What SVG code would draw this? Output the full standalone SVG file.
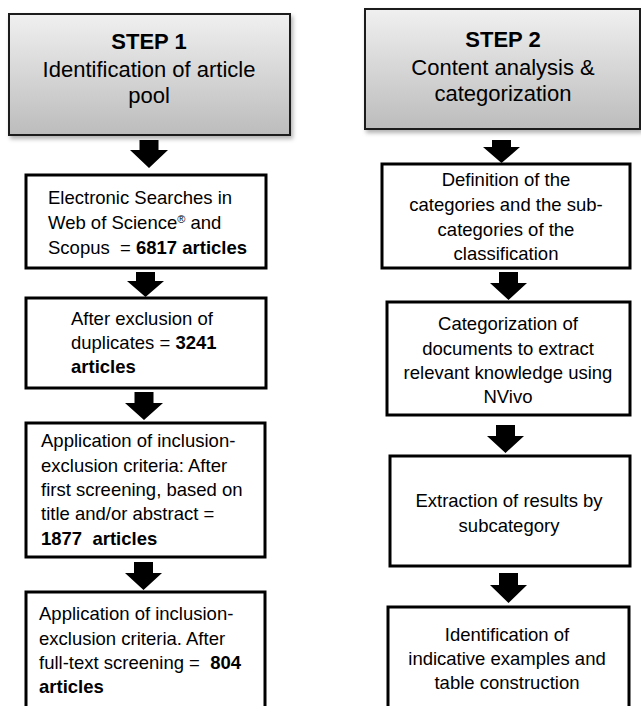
<svg xmlns="http://www.w3.org/2000/svg" width="641" height="706" viewBox="0 0 641 706">
<style>
text{font-family:"Liberation Sans",Arial,sans-serif;fill:#000;white-space:pre}
.h{font-size:22px;text-anchor:middle}
.hb{font-weight:bold}
.t{font-size:18.5px}
.c{text-anchor:middle}
.b{font-weight:bold}
.box{fill:#fff;stroke:#000;stroke-width:3}
.step{fill:url(#g);stroke:#1e1e1e;stroke-width:2;filter:url(#sh)}
.arr{fill:#000}
</style>
<defs>
<linearGradient id="g" x1="0" y1="0" x2="0" y2="1">
<stop offset="0" stop-color="#f0f0f0"/>
<stop offset="1" stop-color="#bcbcbc"/>
</linearGradient>
<filter id="sh" x="-5%" y="-5%" width="115%" height="120%">
<feDropShadow dx="2" dy="3" stdDeviation="2" flood-color="#000" flood-opacity="0.3"/>
</filter>
</defs>

<g id="step1">
<rect class="step" x="9" y="14" width="281" height="121"/>
<text class="h hb" x="149" y="49">STEP 1</text>
<text class="h" x="149" y="77">Identification of article</text>
<text class="h" x="149" y="103">pool</text>
</g>

<g id="step2">
<rect class="step" x="365" y="9" width="275" height="120"/>
<text class="h hb" x="503" y="47">STEP 2</text>
<text class="h" x="503" y="75">Content analysis &amp;</text>
<text class="h" x="503" y="101">categorization</text>
</g>

<g id="searches">
<rect class="box" x="26" y="175" width="240" height="93"/>
<text class="t" x="48" y="204">Electronic Searches in</text>
<text class="t" x="48" y="229">Web of Science<tspan font-size="11" baseline-shift="super">®</tspan> and</text>
<text class="t" x="48" y="254">Scopus  = <tspan class="b">6817 articles</tspan></text>
</g>

<g id="duplicates">
<rect class="box" x="26" y="298" width="240" height="90"/>
<text class="t" x="71" y="325">After exclusion of</text>
<text class="t" x="71" y="349">duplicates = <tspan class="b">3241</tspan></text>
<text class="t b" x="71" y="373">articles</text>
</g>

<g id="screening1">
<rect class="box" x="26" y="423" width="239" height="134"/>
<text class="t" x="41" y="447">Application of inclusion-</text>
<text class="t" x="41" y="472">exclusion criteria: After</text>
<text class="t" x="41" y="496">first screening, based on</text>
<text class="t" x="41" y="520">title and/or abstract =</text>
<text class="t b" x="41" y="545">1877  articles</text>
</g>

<g id="screening2">
<rect class="box" x="26" y="592" width="239" height="130"/>
<text class="t" x="39" y="620">Application of inclusion-</text>
<text class="t" x="39" y="645">exclusion criteria. After</text>
<text class="t" x="39" y="669">full-text screening =  <tspan class="b">804</tspan></text>
<text class="t b" x="39" y="693">articles</text>
</g>

<g id="definition">
<rect class="box" x="382" y="164" width="248" height="104"/>
<text class="t c" x="506" y="186">Definition of the</text>
<text class="t c" x="506" y="211">categories and the sub-</text>
<text class="t c" x="506" y="236">categories of the</text>
<text class="t c" x="506" y="260">classification</text>
</g>

<g id="categorization">
<rect class="box" x="387" y="302" width="243" height="113"/>
<text class="t c" x="508" y="330">Categorization of</text>
<text class="t c" x="508" y="355">documents to extract</text>
<text class="t c" x="508" y="379">relevant knowledge using</text>
<text class="t c" x="508" y="403">NVivo</text>
</g>

<g id="extraction">
<rect class="box" x="390" y="456" width="240" height="110"/>
<text class="t c" x="509" y="507">Extraction of results by</text>
<text class="t c" x="509" y="532">subcategory</text>
</g>

<g id="identification">
<rect class="box" x="388" y="607" width="241" height="115"/>
<text class="t c" x="507" y="641">Identification of</text>
<text class="t c" x="507" y="665">indicative examples and</text>
<text class="t c" x="507" y="689">table construction</text>
</g>

<g id="connectors">
<path class="arr" d="M139.5 140 H158.5 V150 H168 L149 168 L130 150 H139.5 Z"/>
<path class="arr" d="M136 272 H155 V281 H164 L145.5 297 L127 281 H136 Z"/>
<path class="arr" d="M134.5 392 H153.5 V403 H163 L144 420 L125 403 H134.5 Z"/>
<path class="arr" d="M134 562 H153 V573 H162 L143.5 590 L125 573 H134 Z"/>
<path class="arr" d="M492 140 H511 V147 H520 L501.5 163 L483 147 H492 Z"/>
<path class="arr" d="M499 272 H518 V283 H527 L508.5 300 L490 283 H499 Z"/>
<path class="arr" d="M496 425 H515 V436 H524 L505.5 453 L487 436 H496 Z"/>
<path class="arr" d="M499 573 H518 V585 H527 L508.5 603 L490 585 H499 Z"/>
</g>
</svg>
